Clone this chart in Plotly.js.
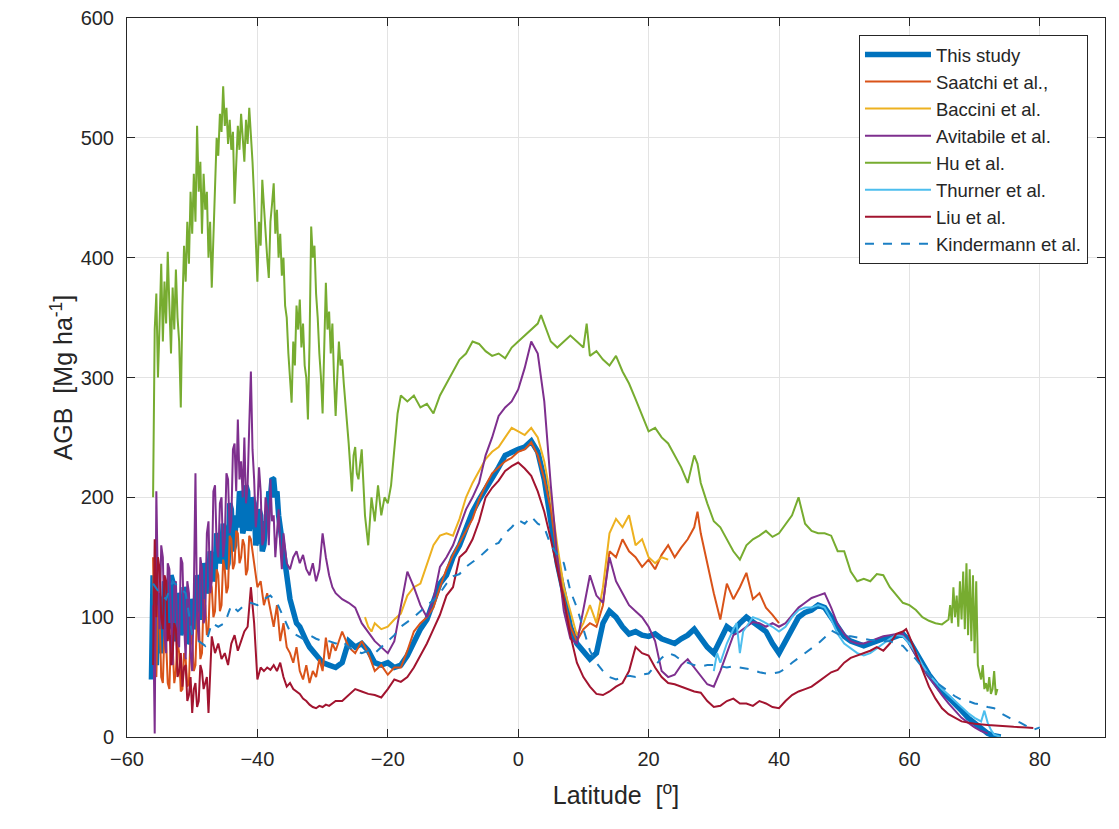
<!DOCTYPE html>
<html>
<head>
<meta charset="utf-8">
<script src="https://cdn.plot.ly/plotly-3.0.1.min.js"></script>
<style>html,body{margin:0;padding:0;background:#fff;}#chart{width:1119px;height:829px;}</style>
</head>
<body>
<div id="chart"></div>
<script>
// ---- Data: [latitude, AGB (Mg/ha)] ----
const thisStudy = [
[-56.25,48],[-56,135],[-55.75,75],[-55.5,60],[-55.25,120],[-55,110],[-54.75,70],[-54.5,80],[-54.25,130],[-54,125],
[-53.75,90],[-53.5,95],[-53.25,135],[-53,130],[-52.75,80],[-52.5,85],[-52.25,120],[-52,115],[-51.75,85],[-51.5,90],
[-51.25,125],[-51,120],[-50.75,78],[-50.5,80],[-50.25,115],[-50,110],[-49.75,90],[-49.5,95],[-49.25,135],[-49,130],
[-48.75,100],[-48.5,100],[-48.25,145],[-48,140],[-47.75,120],[-47.5,125],[-47.25,155],[-47,150],[-46.75,130],[-46.5,135],
[-46.25,170],[-46,165],[-45.75,145],[-45.5,150],[-45.25,178],[-45,170],[-44.75,140],[-44.5,145],[-44.25,195],[-44,190],
[-43.75,155],[-43.5,160],[-43.25,185],[-43,175],[-42.75,205],[-42.5,200],[-42.25,170],[-42,175],[-41.75,210],[-41.5,205],
[-41.25,172],[-41,180],[-40.75,200],[-40.5,195],[-40.25,160],[-40,165],[-39.75,190],[-39.5,185],[-39.25,155],[-39,160],
[-38.75,180],[-38.5,175],[-38.25,205],[-38,200],[-37.75,216],[-37.5,215],[-37.25,200],[-37,205],[-36.75,185],[-36.5,175],
[-36,150],[-35.5,130],[-35,115],[-34.5,105],[-34,95],[-33.5,92],[-33,85],[-32.5,80],[-32,75],[-31.5,72],
[-31,68],[-30.5,65],[-30,62],[-29,60],[-28,58],[-27,62],[-26,80],[-25,75],[-24,78],[-23,72],[-22,62],[-21,60],
[-20,62],[-19,58],[-18,60],[-17,68],[-16,80],[-15,90],[-14,98],[-13,112],[-12,128],[-11,135],[-10,150],[-9,160],
[-8,175],[-7,188],[-6,198],[-5,207],[-4,214],[-3,225],[-2,235],[-1,238],[0,240],[1,242],[2,247],[3,238],[4,215],
[5,180],[6,145],[7,120],[8,92],[9,78],[10,72],[11,65],[12,70],[13,95],[14,105],[15,100],[16,92],[17,86],[18,88],
[19,85],[20,84],[21,86],[22,82],[23,80],[24,78],[25,82],[26,85],[27,90],[28,82],[29,75],[30,70],[31,80],[32,92],
[33,88],[34,95],[35,100],[36,96],[37,92],[38,88],[39,78],[40,70],[41,80],[42,90],[43,100],[44,104],[45,106],
[46,110],[47,108],[48,100],[49,92],[50,84],[51,80],[52,78],[53,76],[54,78],[55,80],[56,82],[57,82],[58,84],
[59,86],[60,80],[61,70],[62,60],[63,52],[64,45],[65,38],[66,33],[67,28],[68,22],[69,16],[70,12],[71,7],[72,3],
[73,1],[74,0]
];
const saatchi = [
[-56,150],[-55.75,60],[-55.5,50],[-55.25,110],[-55,100],[-54.75,50],[-54.5,45],[-54.25,90],[-54,80],[-53.75,45],
[-53.5,40],[-53.25,85],[-53,75],[-52.75,45],[-52.5,55],[-52.25,80],[-52,70],[-51.75,38],[-51.5,40],[-51.25,70],
[-51,65],[-50.75,42],[-50.5,45],[-50.25,85],[-50,80],[-49.75,55],[-49.5,60],[-49.25,105],[-49,100],[-48.75,65],
[-48.5,70],[-48.25,115],[-48,110],[-47.75,85],[-47.5,90],[-47.25,130],[-47,125],[-46.75,100],[-46.5,105],[-46.25,140],
[-46,135],[-45.75,105],[-45.5,110],[-45.25,148],[-45,140],[-44.75,120],[-44.5,125],[-44.25,168],[-44,165],[-43.75,140],
[-43.5,145],[-43.25,172],[-43,170],[-42.75,145],[-42.5,150],[-42.25,165],[-42,160],[-41.75,135],[-41.5,140],[-41.25,168],
[-41,165],[-40.5,145],[-40,125],[-39.5,130],[-39,110],[-38.5,120],[-38,105],[-37.5,92],[-37,110],[-36.5,80],
[-36,95],[-35.5,75],[-35,70],[-34.5,62],[-34,75],[-33.5,55],[-33,48],[-32.5,60],[-32,45],[-31.5,55],
[-31,50],[-30.5,65],[-30,55],[-29.5,83],[-29,65],[-28.5,78],[-28,72],[-27,88],[-26,75],[-25,70],[-24,80],
[-23,70],[-22,55],[-21,60],[-20,52],[-19,58],[-18,58],[-17,72],[-16,88],[-15,95],[-14,100],[-13,108],[-12,125],
[-11,140],[-10,152],[-9,162],[-8,172],[-7,182],[-6,198],[-5,210],[-4,220],[-3,225],[-2,230],[-1,233],[0,238],
[1,240],[2,246],[3,235],[4,215],[5,190],[6,150],[7,115],[8,92],[9,80],[10,90],[11,95],[12,92],[13,110],[14,155],
[15,150],[16,165],[17,155],[18,150],[19,142],[20,148],[21,140],[22,152],[23,160],[24,150],[25,158],[26,165],
[27,175],[27.5,188],[28,170],[29,145],[30,120],[31,98],[32,128],[33,115],[34,125],[35,137],[36,115],[37,120],
[38,108],[39,102],[40,95]
];
const baccini = [
[-23.5,100],[-23,92],[-22.5,88],[-22,95],[-21,90],[-20,92],[-19,98],[-18,103],[-17,118],[-16,125],[-15,128],
[-14,145],[-13,160],[-12,168],[-11,170],[-10,168],[-9,182],[-8,200],[-7,212],[-6,222],[-5,232],[-4,238],
[-3,242],[-2,250],[-1,258],[0,255],[1,252],[2,258],[3,250],[4,230],[5,200],[6,160],[7,125],[8,105],[9,85],
[10,95],[11,110],[12,95],[13,125],[14,170],[15,182],[16,175],[17,185],[18,160],[19,165],[20,150],[21,145],
[22,150],[23,148]
];
const avitabile = [
[-56,110],[-55.75,3],[-55.5,205],[-55.25,120],[-55,90],[-54.75,160],[-54.5,150],[-54.25,85],[-54,70],[-53.75,145],
[-53.5,140],[-53.25,90],[-53,60],[-52.75,125],[-52.5,130],[-52.25,80],[-52,75],[-51.75,150],[-51.5,145],[-51.25,95],
[-51,65],[-50.75,130],[-50.5,120],[-50.25,70],[-50,55],[-49.75,120],[-49.5,220],[-49.25,100],[-49,80],[-48.75,150],
[-48.5,140],[-48.25,95],[-48,100],[-47.75,170],[-47.5,180],[-47.25,120],[-47,130],[-46.75,205],[-46.5,210],[-46.25,160],
[-46,150],[-45.75,195],[-45.5,200],[-45.25,150],[-45,165],[-44.75,220],[-44.5,215],[-44.25,170],[-44,180],[-43.75,240],
[-43.5,245],[-43.25,205],[-43,265],[-42.75,215],[-42.5,230],[-42.25,200],[-42,250],[-41.75,195],[-41.5,210],[-41.25,260],
[-41,305],[-40.75,240],[-40.5,215],[-40.25,175],[-40,190],[-39.75,225],[-39.5,205],[-39.25,160],[-39,165],[-38.75,200],
[-38.5,190],[-38.25,160],[-38,215],[-37.75,180],[-37.5,185],[-37.25,150],[-37,175],[-36.75,190],[-36.5,160],[-36.25,140],
[-36,170],[-35.5,145],[-35,140],[-34.5,150],[-34,155],[-33.5,145],[-33,152],[-32.5,140],[-32,135],
[-31.5,145],[-31,130],[-30.5,140],[-30,170],[-29.5,150],[-29,135],[-28.5,125],[-28,120],[-27,115],[-26,112],
[-25,108],[-24,95],[-23,88],[-22,80],[-21,75],[-20,70],[-19,80],[-18,108],[-17,138],[-16,125],[-15,110],
[-14,100],[-13,115],[-12,142],[-11,150],[-10,160],[-9,175],[-8,190],[-7,200],[-6,212],[-5,235],[-4,250],
[-3,268],[-2,275],[-1,280],[0,290],[1,308],[2,330],[3,320],[4,280],[5,210],[6,150],[7,105],[8,82],[9,78],
[10,108],[11,135],[12,118],[13,112],[14,150],[15,130],[16,120],[17,110],[18,105],[19,100],[20,92],[21,80],
[22,55],[23,50],[24,52],[25,60],[26,65],[27,58],[28,50],[29,44],[30,42],[31,55],[32,70],[33,85],[34,88],
[35,92],[36,96],[37,95],[38,92],[39,95],[40,92],[41,95],[42,102],[43,108],[44,112],[45,116],[46,118],[47,120],
[48,108],[49,94],[50,86],[51,80],[52,78],[53,78],[54,80],[55,82],[56,84],[57,85],[58,86],[59,86],[60,78],
[61,68],[62,58],[63,50],[64,42],[65,35],[66,28],[67,22],[68,16],[69,12],[70,8],[71,5],[72,3]
];
const hu = [
[-56,200],[-55.75,340],[-55.5,370],[-55.25,300],[-55,345],[-54.75,395],[-54.5,330],[-54.25,380],[-54,345],[-53.75,405],
[-53.5,360],[-53.25,320],[-53,375],[-52.75,340],[-52.5,390],[-52.25,350],[-52,330],[-51.75,275],[-51.5,360],[-51.25,410],
[-51,380],[-50.75,430],[-50.5,395],[-50.25,455],[-50,420],[-49.75,470],[-49.5,430],[-49.25,510],[-49,455],[-48.75,480],
[-48.5,420],[-48.25,470],[-48,440],[-47.75,455],[-47.5,400],[-47.25,430],[-47,375],[-46.75,420],[-46.5,470],[-46.25,500],
[-46,485],[-45.75,520],[-45.5,505],[-45.25,543],[-45,510],[-44.75,525],[-44.5,495],[-44.25,515],[-44,490],[-43.75,505],
[-43.5,445],[-43.25,480],[-43,510],[-42.75,490],[-42.5,520],[-42.25,500],[-42,480],[-41.75,515],[-41.5,495],[-41.25,525],
[-41,505],[-40.75,480],[-40.5,450],[-40.25,420],[-40,380],[-39.75,430],[-39.5,410],[-39.25,465],[-39,440],[-38.75,420],
[-38.5,400],[-38.25,383],[-38,430],[-37.75,445],[-37.5,462],[-37.25,420],[-37,440],[-36.75,400],[-36.5,420],[-36.25,385],
[-36,400],[-35.75,360],[-35.5,350],[-35.25,320],[-35,300],[-34.75,279],[-34.5,330],[-34.25,310],[-34,360],[-33.75,340],
[-33.5,365],[-33.25,325],[-33,345],[-32.75,310],[-32.5,300],[-32.25,265],[-32,330],[-31.75,426],[-31.5,400],[-31.25,410],
[-31,370],[-30.75,350],[-30.5,320],[-30.25,300],[-30,270],[-29.75,330],[-29.5,379],[-29.25,340],[-29,355],[-28.75,320],
[-28.5,345],[-28.25,300],[-28,268],[-27.75,300],[-27.5,330],[-27.25,310],[-27,315],[-26.75,295],[-26.5,280],[-26.25,260],
[-26,245],[-25.75,225],[-25.5,205],[-25.25,235],[-25,242],[-24.75,220],[-24.5,215],[-24,240],[-23.5,185],[-23,160],
[-22.5,200],[-22,180],[-21.5,210],[-21,185],[-20.5,200],[-20,195],[-19.5,210],[-19,240],[-18.5,270],[-18,285],
[-17,280],[-16,285],[-15,275],[-14,278],[-13,270],[-12,285],[-11,295],[-10,305],[-9,315],[-8,320],[-7,330],
[-6,328],[-5,322],[-4,318],[-3,320],[-2,316],[-1,325],[0,330],[1,335],[2,340],[3,345],[3.5,352],[4,345],[5,330],
[6,325],[7,330],[8,335],[9,330],[10,325],[10.5,345],[11,318],[12,322],[13,315],[14,310],[15,318],[16,305],[17,295],
[18,282],[19,268],[20,255],[21,258],[22,250],[23,245],[24,235],[25,225],[26,212],[27,235],[27.5,228],[28,212],
[29,195],[30,180],[31,175],[32,165],[33,155],[34,148],[35,160],[36,165],[37,168],[38,172],[39,167],[40,170],
[41,178],[42,185],[43,200],[44,178],[45,172],[46,170],[47,170],[48,168],[49,155],[50,155],[51,138],[52,130],
[53,132],[54,130],[55,136],[56,135],[57,125],[58,118],[59,112],[60,110],[61,106],[62,100],[63,97],[64,95],
[65,94],[66,98],[66.25,110],[66.5,95],[66.75,125],[67,100],[67.25,118],[67.5,92],[67.75,130],[68,98],[68.25,138],
[68.5,90],[68.75,145],[69,85],[69.25,140],[69.5,80],[69.75,135],[70,70],[70.25,130],[70.5,60],[70.75,55],[71,48],
[71.25,60],[71.5,40],[71.75,45],[72,38],[72.25,50],[72.5,36],[72.75,40],[73,55],[73.25,35],[73.5,40]
];
const thurner = [
[30,55],[30.5,70],[31,62],[32,78],[33,90],[33.5,95],[34,70],[34.5,88],[35,92],[36,100],[37,98],[38,95],
[39,92],[40,88],[41,92],[42,100],[43,106],[44,108],[45,108],[46,110],[47,108],[48,98],[49,86],[50,78],
[51,74],[52,70],[53,68],[54,70],[55,74],[56,78],[57,82],[58,85],[59,84],[60,78],[61,70],[62,60],[63,52],
[64,46],[65,40],[66,35],[67,30],[68,25],[69,20],[70,16],[71,13],[71.5,22],[72,12],[72.5,6],[73,2],[74,0]
];
const liu = [
[-56,60],[-55.75,165],[-55.5,100],[-55.25,150],[-55,140],[-54.75,100],[-54.5,90],[-54.25,135],[-54,130],[-53.75,80],
[-53.5,95],[-53.25,60],[-53,70],[-52.75,95],[-52.5,90],[-52.25,50],[-52,55],[-51.75,70],[-51.5,42],[-51.25,58],
[-51,60],[-50.75,30],[-50.5,35],[-50.25,50],[-50,20],[-49.75,40],[-49.5,45],[-49.25,25],[-49,30],[-48.75,60],
[-48.5,55],[-48.25,40],[-48,45],[-47.75,50],[-47.5,20],[-47.25,60],[-47,84],
[-46.5,70],[-46,78],[-45.5,65],[-45,70],[-44.5,60],[-44,78],[-43.5,85],[-43,72],[-42.5,80],[-42,88],
[-41.5,92],[-41,125],[-40.5,95],[-40,48],[-39.5,58],[-39,55],[-38.5,58],[-38,56],[-37.5,60],[-37,55],
[-36.5,62],[-36,50],[-35.5,42],[-35,45],[-34.5,40],[-34,38],[-33.5,36],[-33,32],[-32.5,30],[-32,27],
[-31.5,25],[-31,24],[-30.5,26],[-30,25],[-29.5,27],[-29,26],[-28.5,28],[-28,30],[-27,30],[-26,35],[-25,40],
[-24,38],[-23,36],[-22,35],[-21,33],[-20,40],[-19,48],[-18,46],[-17,50],[-16,58],[-15,68],[-14,78],[-13,90],
[-12,102],[-11,118],[-10,125],[-9,150],[-8,155],[-7,165],[-6,180],[-5,200],[-4,208],[-3,214],[-2,222],
[-1,226],[0,229],[1,224],[2,218],[3,205],[4,188],[5,165],[6,140],[7,115],[8,85],[9,62],[10,50],[11,42],
[12,36],[13,35],[14,38],[15,42],[16,45],[17,55],[18,75],[19,70],[20,68],[21,58],[22,50],[23,45],[24,44],
[25,42],[26,40],[27,38],[28,37],[29,30],[30,25],[31,26],[32,30],[33,32],[34,28],[35,28],[36,26],[37,30],
[38,28],[39,25],[40,24],[41,30],[42,35],[43,38],[44,40],[45,42],[46,46],[47,50],[48,54],[49,56],[50,62],
[51,66],[52,68],[53,70],[54,72],[55,75],[56,72],[57,78],[58,86],[59,88],[59.5,90],[60,84],[61,70],[62,55],
[63,42],[64,32],[65,24],[66,19],[67,16],[68,13],[69,12],[70,11],[72,10],[74,9],[76,8.5],[78,8],[79,7.5]
];
const kindermann = [
[-56,128],[-55,120],[-54,115],[-53,130],[-52,125],[-51,120],[-50,85],[-49,80],[-48,76],[-47,95],[-46,92],
[-45,95],[-44,110],[-43,105],[-42,110],[-41,112],[-40,110],[-39,115],[-38,118],[-37,112],[-36,100],[-35,88],
[-34,85],[-33,82],[-32,85],[-31,82],[-30,80],[-29,80],[-28,78],[-27,80],[-26,75],[-25,72],[-24,70],[-23,72],
[-22,70],[-21,75],[-20,80],[-19,85],[-18,92],[-17,96],[-16,100],[-15,105],[-14,110],[-13,114],[-12,120],
[-11,128],[-10,134],[-9,136],[-8,142],[-7,146],[-6,150],[-5,155],[-4,160],[-3,162],[-2,170],[-1,175],[0,181],
[1,178],[2,184],[3,178],[4,175],[5,160],[6,152],[7,145],[8,122],[9,108],[10,90],[11,72],[12,62],[13,55],
[14,50],[15,48],[16,50],[17,51],[18,50],[19,52],[20,53],[21,60],[22,66],[23,70],[24,68],[25,64],[26,62],
[27,60],[28,59],[29,60],[30,60],[31,59],[32,58],[33,59],[34,58],[35,57],[36,56],[37,54],[38,53],[39,53],
[40,54],[41,57],[42,62],[43,66],[44,70],[45,74],[46,78],[47,83],[48,89],[49,86],[50,84],[51,84],[52,83],
[53,82],[54,81],[55,81],[56,80],[57,80],[58,78],[59,76],[60,70],[61,65],[62,58],[63,52],[64,46],[65,42],
[66,38],[67,34],[68,31],[69,30],[70,28],[71,27],[72,25],[73,24],[74,20],[75,17],[76,14],[77,12],[78,9],
[79,6],[80,8]
];
const seriesNames = ['This study','Saatchi et al.,','Baccini et al.','Avitabile et al.','Hu et al.','Thurner et al.','Liu et al.','Kindermann et al.'];
const xTickVals = [-60,-40,-20,0,20,40,60,80];
const yTickVals = [0,100,200,300,400,500,600];

// ---- Styles ----
const styles = [
  {color:'#0072BD', width:5.5, dash:'solid'},
  {color:'#D95319', width:2, dash:'solid'},
  {color:'#EDB120', width:2, dash:'solid'},
  {color:'#7E2F8E', width:2, dash:'solid'},
  {color:'#77AC30', width:2, dash:'solid'},
  {color:'#4DBEEE', width:2, dash:'solid'},
  {color:'#A2142F', width:2, dash:'solid'},
  {color:'#1B7FC4', width:2, dash:'dash'}
];
const allData = [thisStudy, saatchi, baccini, avitabile, hu, thurner, liu, kindermann];

const traces = allData.map((d,i)=>({
  type:'scatter', mode:'lines',
  x: d.map(p=>p[0]), y: d.map(p=>p[1]),
  name: seriesNames[i],
  line: {color: styles[i].color, width: styles[i].width, dash: styles[i].dash},
  hoverinfo:'skip'
}));

const fam = '"Liberation Sans", Arial, Helvetica, sans-serif';
const ink = '#262626';
const layout = {
  width:1119, height:829,
  margin:{l:127, r:14, t:18, b:92},
  paper_bgcolor:'#fff', plot_bgcolor:'#fff',
  font:{family:fam, color:ink, size:20},
  showlegend:true,
  legend:{
    x:0.9826, y:0.9764, xanchor:'right', yanchor:'top',
    bgcolor:'#fff', bordercolor:ink, borderwidth:1,
    font:{family:fam, color:ink, size:18.5},
    itemwidth:66, tracegroupgap:0
  },
  xaxis:{
    range:[-60,90], tickvals:xTickVals,
    ticks:'inside', ticklen:8, tickcolor:ink, tickwidth:1,
    showline:true, linecolor:ink, linewidth:1, mirror:'ticks',
    showgrid:true, gridcolor:'#e3e3e3', gridwidth:1, zeroline:false,
    tickfont:{family:fam, color:ink, size:20}, ticklabelstandoff:4,
    title:{text:'Latitude  [<sup>o</sup>]', font:{family:fam, color:ink, size:25}, standoff:17}
  },
  yaxis:{
    range:[0,600], tickvals:yTickVals,
    ticks:'inside', ticklen:8, tickcolor:ink, tickwidth:1,
    showline:true, linecolor:ink, linewidth:1, mirror:'ticks',
    showgrid:true, gridcolor:'#e3e3e3', gridwidth:1, zeroline:false,
    tickfont:{family:fam, color:ink, size:20}, ticklabelstandoff:8,
    title:{text:'AGB  [Mg ha<sup>-1</sup>]', font:{family:fam, color:ink, size:25}, standoff:0}
  }
};
Plotly.newPlot('chart', traces, layout, {staticPlot:true, displayModeBar:false});
</script>
</body>
</html>
